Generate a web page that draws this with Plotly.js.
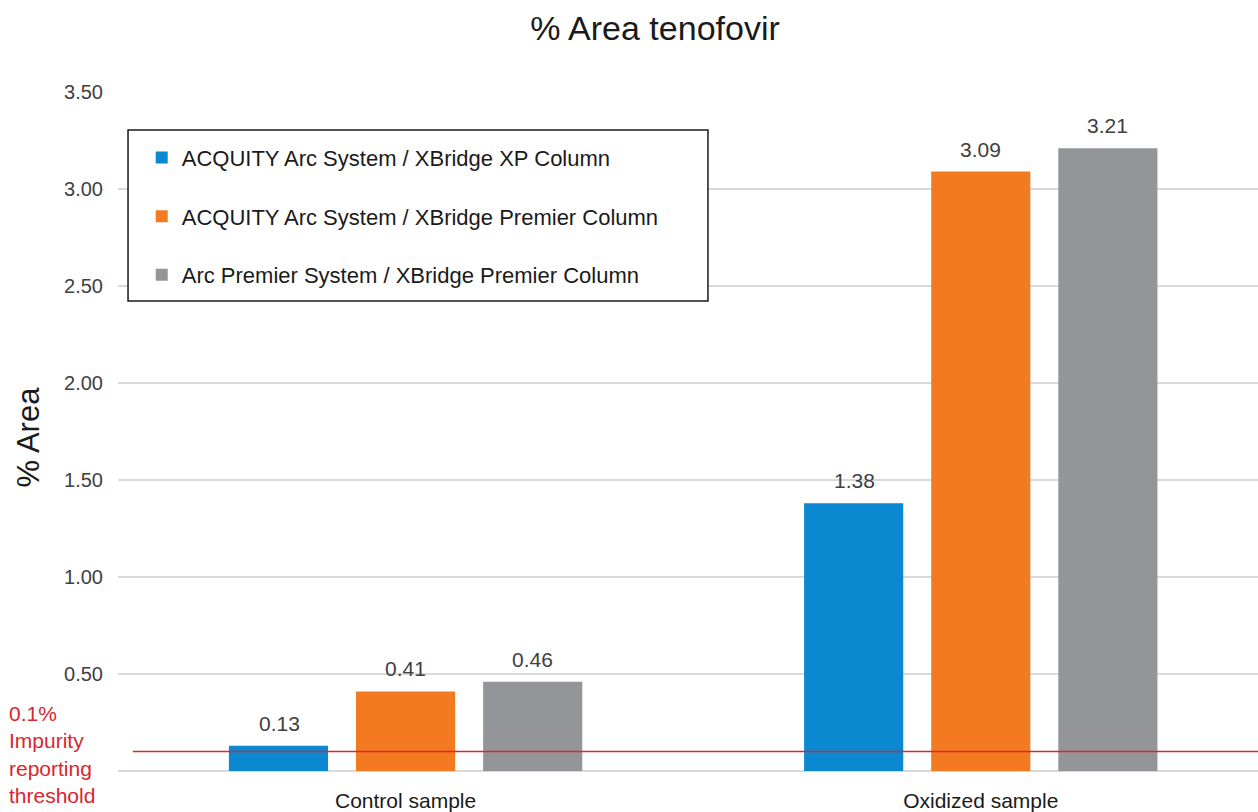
<!DOCTYPE html>
<html>
<head>
<meta charset="utf-8">
<script src="https://cdn.plot.ly/plotly-3.0.1.min.js"></script>
<style>html,body{margin:0;padding:0;background:#fff;}#chart{width:1258px;height:812px;}</style>
</head>
<body>
<div id="chart"></div>
<script>
const categories = ["Control sample", "Oxidized sample"];
const seriesNames = [
  "ACQUITY Arc System / XBridge XP Column",
  "ACQUITY Arc System / XBridge Premier Column",
  "Arc Premier System / XBridge Premier Column"
];
const xpColumn = [0.13, 1.38];
const premierColumn = [0.41, 3.09];
const arcPremier = [0.46, 3.21];
const threshold = 0.1;
const yTicks = [0, 0.5, 1.0, 1.5, 2.0, 2.5, 3.0, 3.5];
const yTickLabels = ["", "0.50", "1.00", "1.50", "2.00", "2.50", "3.00", "3.50"];
const colors = ["#0a88d0", "#f47a22", "#939598"];

const FONT = "Liberation Sans, Arial, Helvetica, sans-serif";
const values = [xpColumn, premierColumn, arcPremier];
const traces = values.map((v, i) => ({
  type: "bar",
  name: seriesNames[i],
  legendgroup: "g" + i,
  x: categories,
  y: v,
  marker: {color: colors[i]},
  hoverinfo: "skip"
}));

const labelAnnotations = [];
values.forEach((v, i) => {
  v.forEach((d, j) => {
    labelAnnotations.push({
      xref: "x", yref: "y", x: categories[j], y: d,
      xshift: (i - 1) * 126.5, yshift: 9,
      yanchor: "bottom", xanchor: "center", showarrow: false,
      text: d.toFixed(2),
      font: {family: FONT, size: 21, color: "#404040"}
    });
  });
});

const layout = {
  width: 1258, height: 812,
  margin: {l: 118, r: 0, t: 92, b: 41},
  paper_bgcolor: "#fff", plot_bgcolor: "#fff",
  font: {family: FONT, color: "#404040"},
  title: {text: "% Area tenofovir", x: 0.5207, xanchor: "center", y: 0.966, yanchor: "middle",
          font: {family: FONT, size: 34, color: "#1a1a1a"}},
  barmode: "group",
  bargap: 0.337,
  bargroupgap: 0.22,
  showlegend: true,
  legend: {x: 0.0208, xanchor: "left", y: 0.934, yanchor: "top",
           bgcolor: "rgba(0,0,0,0)", borderwidth: 0, tracegroupgap: 27,
           font: {family: FONT, size: 22, color: "#1a1a1a"}},
  xaxis: {type: "category", range: [-0.5, 1.482], showgrid: false, zeroline: false,
          showline: false, ticks: "", ticklabelstandoff: 15,
          tickfont: {family: FONT, size: 21, color: "#1a1a1a"}},
  yaxis: {range: [0, 3.5], tickvals: yTicks, ticktext: yTickLabels,
          showgrid: true, gridcolor: "#d9d9d9", gridwidth: 2,
          zeroline: true, zerolinecolor: "#d9d9d9", zerolinewidth: 2,
          showline: false, ticks: "", ticklabelstandoff: 14,
          tickfont: {family: FONT, size: 20, color: "#404040"}},
  shapes: [
    {type: "rect", xref: "paper", yref: "paper", x0: 0.0088, x1: 0.5175, y0: 0.6922, y1: 0.944,
     line: {color: "#1a1a1a", width: 1.5}, fillcolor: "#fff", layer: "above"},
    {type: "line", xref: "paper", yref: "y", x0: 0.013, x1: 1, y0: threshold, y1: threshold,
     line: {color: "#d9262e", width: 1.5}, layer: "above"}
  ],
  annotations: labelAnnotations.concat([
    {xref: "paper", yref: "paper", x: -0.0789, xanchor: "center", y: 0.5, yanchor: "middle",
     yshift: -6, textangle: -90, text: "% Area", showarrow: false,
     font: {family: FONT, size: 31, color: "#1a1a1a"}},
    {xref: "paper", yref: "paper", x: -0.097, xanchor: "left", y: -0.06, yanchor: "bottom",
     yshift: 3, text: "0.1%<br>Impurity<br>reporting<br>threshold", align: "left", showarrow: false,
     font: {family: FONT, size: 21, color: "#d9262e"}}
  ])
};

Plotly.newPlot("chart", traces, layout, {displayModeBar: false, staticPlot: true});
</script>
</body>
</html>
